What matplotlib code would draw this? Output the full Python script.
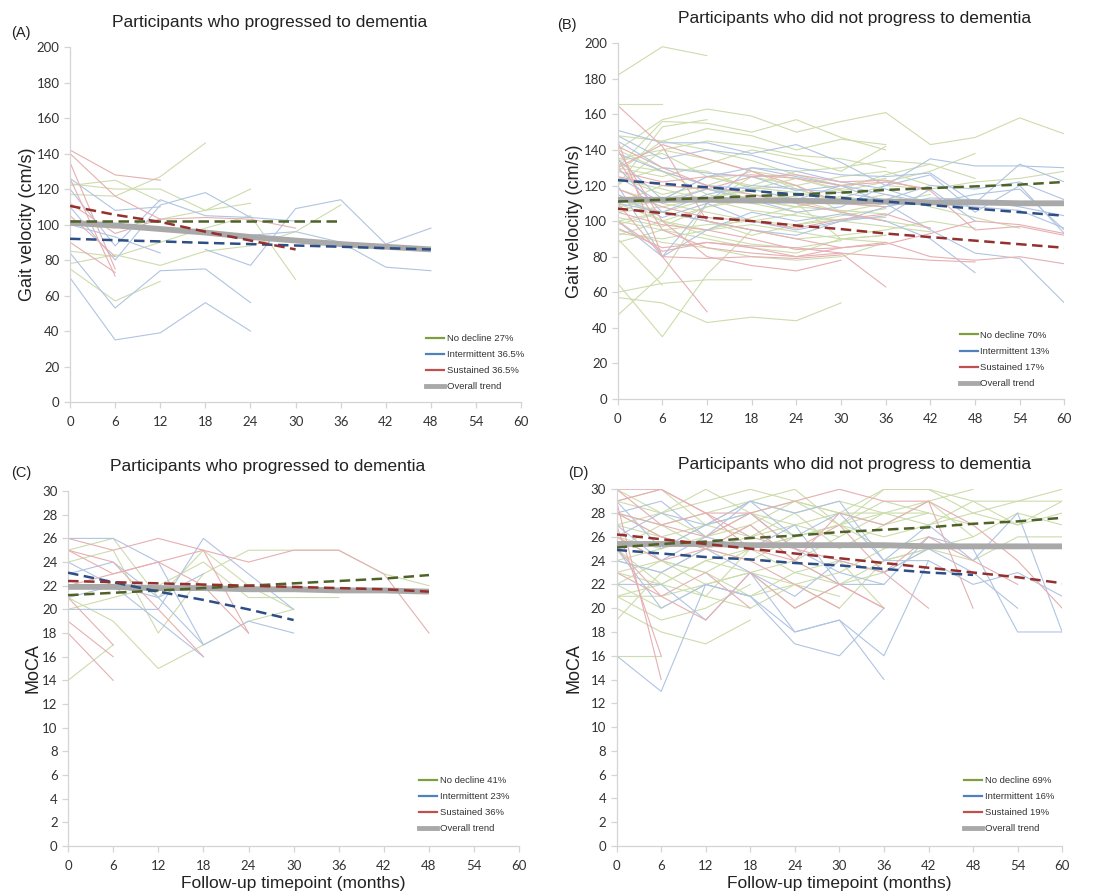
"""
plot.py
Individual trajectories of gait velocity and MoCA by decline group,
for participants who did / did not progress to dementia.
"""

import matplotlib
matplotlib.use("Agg")
import matplotlib.pyplot as plt
import numpy as np
from matplotlib.lines import Line2D

MONTHS = [0, 6, 12, 18, 24, 30, 36, 42, 48, 54, 60]
N = None  # visit not attended yet

# ---------------- (A) gait velocity, progressed to dementia ----------------
A_green = [
    [117, 116, 127, 146],
    [123, 120, 120, 108, 112],
    [100, 98, 103, 108, 120],
    [78, 83, 77, 85, 88, 96, 111],
    [75, 57, 68],
    [85, 82, 90, 98, 105, 69],
    [122, 125, 113],
]
A_blue = [
    [70, 35, 39, 56, 40],
    [84, 53, 74, 75, 56],
    [120, 88, 114, 105, 104, 102],
    [110, 80, 111, 118, 104],
    [N, N, N, 86, 77, 109, 114, 89, 98],
    [N, N, N, N, 94, 96, 90, 76, 74],
    [100, 93, 84],
    [126, 108, 110],
]
A_red = [
    [142, 128, 125],
    [140, 116, 103],
    [135, 75],
    [126, 71],
    [105, 82],
    [90, 73],
    [N, N, 103, 104, 103, 98],
    [112, 95, 103],
]
A_trend_green = [102, 102, 102, 102, 102, 102, 102]
A_trend_blue = [92, 91.2, 90.5, 89.7, 89, 88.2, 87.5, 86.7, 86]
A_trend_red = [110.5, 105.5, 101.5, 96, 91, 86]
A_trend_all = [101, 99.5, 97.5, 95.5, 93, 91, 89, 87.5, 86]

# ---------------- (B) gait velocity, did not progress ----------------
B_green = [
    [182, 198, 193],
    [166, 166],
    [140, 157, 163, 159, 150, 156, 161, 143, 147, 158, 149],
    [130, 156, 155, 150, 157, 147, 140],
    [120, 153, 157],
    [148, 145, 152, 148, 140, 146, 143],
    [135, 140, 145, 142, 137, 135, 130],
    [47, 70, 110, 125, 120, 105, 110],
    [57, 54, 43, 46, 44, 54],
    [60, 65, 67, 67],
    [65, 35, 70, 95],
    [90, 64],
    [112, 105, 100, 95, 90, 92, 95, 100, 96],
    [125, 115, 120, 128, 124, 118, 126, 132, 124],
    [110, 120, 118, 112, 108, 113, 120, 118, 122, 124, 128],
    [100, 95, 90, 85, 82, 90, 88],
    [95, 88, 85, 80, 78, 80, 88],
    [118, 110, 105, 100, 98, 101, 102],
    [130, 125, 132, 140, 135, 128, 142],
    [105, 108, 113, 118, 124, 117, 122, 128, 138],
    [115, 100, 95, 102, 108, 114, 110],
    [122, 130, 128, 118, 112, 105, 100, 96],
    [108, 112, 125, 120, 128, 130, 134, 132],
    [140, 128, 115, 110, 105, 100, 97, 94],
    [98, 105, 100, 92, 98, 103, 107],
    [102, 97, 108, 112, 114, 118],
    [110, 100, 92, 87, 85, 89],
    [124, 118, 112, 106, 103, 100],
    [88, 95, 98, 100, 104],
    [134, 138, 125, 119, 116, 112, 110, 115],
    [92, 100, 108, 115, 110, 90, 92],
    [128, 145, 140, 134, 126, 120, 124],
    [100, 105, 112, 118, 120, 125, 128, 120],
    [132, 128, 120, 112, 108, 106, 104],
    [120, 140, 135, 128, 118, 110, 108],
    [106, 112, 118, 115, 112, 110, 115, 108, 102, 96],
    [93, 90, 95, 98, 94, 90, 92],
]
B_blue = [
    [151, 144, 144, 138, 143, 133, 120, 135, 131, 131, 130],
    [148, 135, 140, 137, 130, 126, 125, 127, 110, 132, 122],
    [145, 130, 127, 125, 117, 120, 115, 110, 115, 118, 95],
    [120, 80, 110, 130, 125, 120, 110, 95, 82, 79, 54],
    [125, 110, 118, 112, 105, 108, 120, 126, 105, 120, 93],
    [100, 80, 95, 105, 100, 104, 100, 90, 71],
    [115, 102, 110, 100, 95, 100, 103, 118, 100],
    [138, 128, 120, 118, 112, 120],
    [130, 105, 100, 95, 92, 100, 108, 113, 112, 108, 103],
    [110, 105, 115, 120, 118, 116, 112, 120, 118, 122, 112],
    [135, 112, 125, 130, 128, 122, 118, 110, 108, 106, 96],
]
B_red = [
    [165, 142, 100, 95, 90, 85],
    [140, 100, 80, 75, 72, 78],
    [145, 80, 79, 80, 79, 81],
    [135, 95, 85, 82, 80, 85, 88, 80, 78, 80, 76],
    [110, 80, 49],
    [100, 83, 88, 85, 80, 82, 63],
    [105, 98, 95, 90, 84, 85, 87, 93, 100, 98, 93],
    [125, 120, 118, 125, 126, 122, 123, 117, 95, 97, 92],
    [130, 143, 135, 128, 120, 110, 108],
    [96, 85, 88, 86, 85, 82, 80, 78, 77],
    [118, 108, 102, 100, 96, 101, 104, 96],
    [128, 122, 125, 126, 124, 120, 122, 118],
    [142, 130, 120, 115, 110, 105, 100],
]
B_trend_green = [111, 112, 113, 114, 115, 116, 117.5, 118.5, 119.5, 120.5, 122]
B_trend_blue = [123, 121, 119, 117, 115, 113, 111, 109, 107, 105, 103]
B_trend_red = [107, 104.5, 102, 100, 97.5, 95.5, 93, 91, 89, 87, 85]
B_trend_all = [112, 112, 112, 111.5, 111.5, 111, 111, 110.5, 110.5, 110, 110]

# ---------------- (C) MoCA, progressed to dementia ----------------
C_green = [
    [14, 17],
    [21, 19, 15, 17, 19, 20],
    [24, 25, 18, 23, 25, 25, 25, 23, 22],
    [20, 21, 22, 24, 21, 21, 21],
    [25, 26, 21, 25, 22, 20],
]
C_blue = [
    [26, 26, 24, 17, 19, 18],
    [20, 20, 20, 26, 23, 20],
    [24, 22, 21, 23],
    [21, 22, 19, 16],
    [23, 24, 21, 17],
]
C_red = [
    [26, 25, 26, 25, 24, 25, 25, 23, 18],
    [25, 24, 20, 16],
    [19, 16],
    [18, 14],
    [25, 23, 24, 25, 18],
    [22, 23, 24, 22, 18],
    [21, 17],
]
C_trend_green = [21.2, 21.4, 21.6, 21.8, 22.0, 22.2, 22.4, 22.6, 22.9]
C_trend_blue = [23.1, 22.3, 21.5, 20.8, 20.0, 19.1]
C_trend_red = [22.4, 22.3, 22.2, 22.1, 22.0, 21.9, 21.8, 21.7, 21.5]
C_trend_all = [21.9, 21.9, 21.8, 21.8, 21.7, 21.7, 21.6, 21.6, 21.5]

# ---------------- (D) MoCA, did not progress ----------------
D_green = [
    [30, 28, 29, 30, 29, 28, 30, 30, 29, 29, 30],
    [29, 30, 27, 29, 30, 27, 26, 27, 28, 27, 29],
    [28, 27, 28, 29, 28, 29, 28, 29, 26, 28, 27],
    [27, 26, 27, 26, 28, 25, 27, 28, 27],
    [26, 25, 27, 28, 26, 27, 25, 26],
    [25, 27, 25, 24, 26, 27, 28],
    [24, 25, 26, 27, 24, 26],
    [23, 22, 24, 25, 23, 22, 24, 25],
    [22, 24, 23, 21, 22, 23, 25],
    [21, 21, 22, 23, 24, 22],
    [20, 18, 17, 19],
    [16, 16],
    [21, 19, 20, 22],
    [19, 23, 21, 25, 26],
    [25, 22, 24, 23, 20, 22, 23, 25, 26],
    [28, 26, 25, 27, 29, 28, 27, 29, 30],
    [27, 28, 26, 28, 27, 28, 28, 28],
    [24, 23, 25, 26, 27, 26, 28, 27, 29, 27, 28],
    [26, 24, 22, 23, 22, 20, 24, 25, 24, 26, 26],
    [22, 20, 22, 21, 23, 24, 20],
    [23, 24, 23, 25, 26, 27, 29, 28],
    [21, 22, 21, 20, 22, 21],
    [29, 28, 30, 28, 29, 27, 30, 30, 28, 29, 29],
]
D_blue = [
    [16, 13, 22, 21, 17, 16, 20],
    [22, 22, 19, 23, 18, 19, 14],
    [27, 24, 26, 29, 28, 29, 24, 27, 24, 28, 18],
    [28, 29, 26, 25, 27, 22, 22, 26, 25, 18, 18],
    [24, 23, 25, 23, 21, 24, 23, 25, 23, 20],
    [26, 28, 27, 29, 26, 28, 24, 24, 22, 23, 21],
    [25, 20, 22, 21, 18, 19, 16, 24],
    [29, 25, 27, 28, 25, 23, 22],
]
D_red = [
    [30, 30, 28, 28, 29, 30, 29, 29, 27, 24, 20],
    [29, 30, 28, 26, 25, 27, 23, 20],
    [28, 26, 25, 27, 24, 22, 20],
    [29, 14],
    [27, 16],
    [25, 21, 19, 23, 20, 22, 20],
    [30, 27, 26, 28, 25, 24, 23, 26, 24, 22],
    [28, 27, 28, 25, 24, 28, 27, 29, 20],
    [23, 21, 23, 20],
    [26, 24, 25, 24, 22, 20],
]
D_trend_green = [25.1, 25.4, 25.6, 25.9, 26.1, 26.4, 26.6, 26.8, 27.1, 27.3, 27.6]
D_trend_blue = [24.9, 24.6, 24.3, 24.1, 23.8, 23.6, 23.3, 23.0, 22.8]
D_trend_red = [26.2, 25.8, 25.4, 25.0, 24.6, 24.2, 23.8, 23.4, 23.0, 22.6, 22.1]
D_trend_all = [25.4, 25.4, 25.4, 25.3, 25.3, 25.3, 25.3, 25.2, 25.2, 25.2, 25.2]

LEGEND_A = ["No decline 27%", "Intermittent 36.5%", "Sustained 36.5%", "Overall trend"]
LEGEND_B = ["No decline 70%", "Intermittent 13%", "Sustained 17%", "Overall trend"]
LEGEND_C = ["No decline 41%", "Intermittent 23%", "Sustained 36%", "Overall trend"]
LEGEND_D = ["No decline 69%", "Intermittent 16%", "Sustained 19%", "Overall trend"]

TITLE_PROG = "Participants who progressed to dementia"
TITLE_NOPROG = "Participants who did not progress to dementia"

# colours (Excel-ish)
LIGHT = {"g": "#cddcac", "b": "#b0c4e2", "r": "#e6afb2"}
DARK = {"g": "#4f6228", "b": "#2e4f86", "r": "#94302e"}
LEG = {"g": "#7f9f3f", "b": "#4f81bd", "r": "#c0504d"}
GREY = "#a9a9a9"
AXCOL = "#d4d4d4"


def series(vals):
    y = np.array([np.nan if v is None else v for v in vals], dtype=float)
    return MONTHS[:len(y)], y


def draw_panel(fig, rect, groups, trends, ymax, ystep, ylabel, title, title_x,
               letter, letter_xy, ylabel_x, legend_labels, legend_xy, xlabel):
    ax = fig.add_axes(rect)
    for key, lines in zip("gbr", groups):
        for vals in lines:
            x, y = series(vals)
            ax.plot(x, y, color=LIGHT[key], lw=0.8, zorder=1)

    tg, tb, tr, ta = trends
    x, y = series(ta)
    ax.plot(x, y, color=GREY, lw=4.2, solid_capstyle="butt", zorder=3)
    for key, vals in zip("gbr", (tg, tb, tr)):
        x, y = series(vals)
        ax.plot(x, y, color=DARK[key], lw=1.8, dashes=(4.2, 2.2), zorder=4)

    ax.set_xlim(0, 60)
    ax.set_ylim(0, ymax)
    ax.set_xticks(MONTHS)
    ax.set_yticks(np.arange(0, ymax + 0.1, ystep))
    for s in ("top", "right"):
        ax.spines[s].set_visible(False)
    for s in ("left", "bottom"):
        ax.spines[s].set_color(AXCOL)
        ax.spines[s].set_linewidth(0.9)
    ax.tick_params(axis="both", colors=AXCOL, length=4, width=0.9,
                   labelcolor="#333333", labelsize=9.5)
    for lab in ax.get_xticklabels() + ax.get_yticklabels():
        lab.set_fontfamily("Lato")
    ax.tick_params(axis="x", pad=6)

    ax.text(title_x, 1.07, title, transform=ax.transAxes, ha="center",
            va="center", fontsize=12.5, family="Liberation Sans", color="#222222")
    fig.text(letter_xy[0], letter_xy[1], letter, ha="center", va="center",
             fontsize=10.5, family="Liberation Sans", color="#222222")
    ax.set_ylabel(ylabel, fontsize=13, family="Liberation Sans", color="#222222")
    ax.yaxis.set_label_coords(ylabel_x, 0.5)
    if xlabel:
        ax.set_xlabel(xlabel, fontsize=12.5, family="Liberation Sans",
                      color="#222222", labelpad=3)

    handles = [Line2D([], [], color=LEG["g"], lw=1.6),
               Line2D([], [], color=LEG["b"], lw=1.6),
               Line2D([], [], color=LEG["r"], lw=1.6),
               Line2D([], [], color=GREY, lw=3.5)]
    leg = ax.legend(handles, legend_labels, loc="upper left",
                    bbox_to_anchor=legend_xy, frameon=False, borderpad=0,
                    handlelength=1.9, handletextpad=0.3, labelspacing=0.75,
                    prop={"family": "Liberation Sans", "size": 6.8})
    for t in leg.get_texts():
        t.set_color("#333333")
    return ax


def main():
    fig = plt.figure(figsize=(11.03, 8.94), dpi=100)

    draw_panel(fig, [0.0635, 0.5503, 0.409, 0.397],
               (A_green, A_blue, A_red),
               (A_trend_green, A_trend_blue, A_trend_red, A_trend_all),
               200, 20, "Gait velocity (cm/s)", TITLE_PROG, 0.443,
               "(A)", (0.019, 0.963), -0.075, LEGEND_A, (0.778, 0.205), None)
    draw_panel(fig, [0.560, 0.5537, 0.405, 0.398],
               (B_green, B_blue, B_red),
               (B_trend_green, B_trend_blue, B_trend_red, B_trend_all),
               200, 20, "Gait velocity (cm/s)", TITLE_NOPROG, 0.53,
               "(B)", (0.514, 0.972), -0.078, LEGEND_B, (0.755, 0.205), None)
    draw_panel(fig, [0.0617, 0.0537, 0.409, 0.397],
               (C_green, C_blue, C_red),
               (C_trend_green, C_trend_blue, C_trend_red, C_trend_all),
               30, 2, "MoCA", TITLE_PROG, 0.443,
               "(C)", (0.019, 0.471), -0.058, LEGEND_C, (0.768, 0.21),
               "Follow-up timepoint (months)")
    draw_panel(fig, [0.559, 0.0537, 0.404, 0.399],
               (D_green, D_blue, D_red),
               (D_trend_green, D_trend_blue, D_trend_red, D_trend_all),
               30, 2, "MoCA", TITLE_NOPROG, 0.535,
               "(D)", (0.524, 0.471), -0.076, LEGEND_D, (0.770, 0.21),
               "Follow-up timepoint (months)")

    fig.savefig("out.png", dpi=100)
    plt.close(fig)


if __name__ == "__main__":
    main()
